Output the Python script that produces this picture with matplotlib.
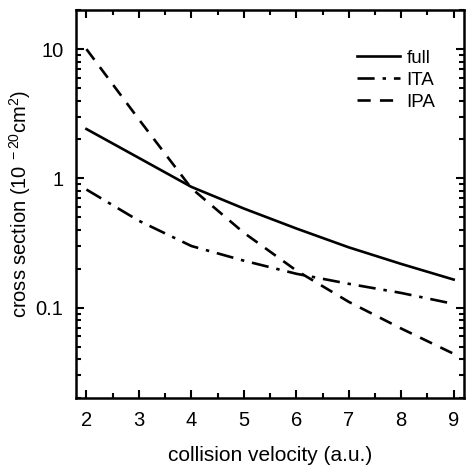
import numpy as np
import matplotlib.pyplot as plt
from matplotlib.ticker import MultipleLocator, LogLocator, FixedFormatter, FixedLocator

plt.rcParams['font.family'] = ['Liberation Sans', 'DejaVu Sans']
plt.rcParams['mathtext.fontset'] = 'custom'
plt.rcParams['mathtext.rm'] = 'Liberation Sans'
plt.rcParams['mathtext.it'] = 'Liberation Sans'

# values
velocity = [2, 3, 4, 5, 6, 7, 8, 9]
full = [2.41, 1.44, 0.86, 0.585, 0.41, 0.293, 0.218, 0.165]
ita = [0.82, 0.47, 0.30, 0.231, 0.183, 0.153, 0.13, 0.107]
ipa = [10.0, 2.86, 0.84, 0.38, 0.194, 0.111, 0.069, 0.044]

fig = plt.figure(figsize=(4.66, 4.65), dpi=100)
ax = fig.add_axes([0.163, 0.144, 0.833, 0.834])

ax.plot(velocity, full, 'k-', lw=1.9, label='full')
ax.plot(velocity, ita, color='k', lw=1.9, dashes=(6.5, 3, 1.3, 3), label='ITA')
ax.plot(velocity, ipa, color='k', lw=1.9, dashes=(5, 3.5), label='IPA')

ax.set_yscale('log')
ax.set_xlim(1.8, 9.2)
ax.set_ylim(0.02, 20)

ax.xaxis.set_major_locator(MultipleLocator(1))
ax.xaxis.set_minor_locator(MultipleLocator(0.5))
ax.yaxis.set_major_locator(FixedLocator([0.1, 1, 10]))
ax.yaxis.set_major_formatter(FixedFormatter(['0.1', '1', '10']))
ax.yaxis.set_minor_locator(LogLocator(base=10, subs=np.arange(2, 10)))
ax.yaxis.set_minor_formatter(FixedFormatter([]))

ax.tick_params(which='both', direction='in', top=True, right=True, width=1.5, labelsize=14.5)
ax.tick_params(axis='x', which='major', length=6, pad=9)
ax.tick_params(axis='y', which='major', length=6, pad=9)
ax.tick_params(which='minor', length=3.5)
for s in ax.spines.values():
    s.set_linewidth(1.8)

ax.set_xlabel('collision velocity (a.u.)', fontsize=15, labelpad=12)
ax.set_ylabel(r'cross section (10$^{\ -20}$cm$^{2}$)', fontsize=14.5, labelpad=2)

ax.legend(loc='upper right', frameon=False, fontsize=13.5, handlelength=2.3,
          handletextpad=0.35, labelspacing=0.27, borderaxespad=0,
          bbox_to_anchor=(0.945, 0.918))

fig.savefig('out.png', dpi=100)
